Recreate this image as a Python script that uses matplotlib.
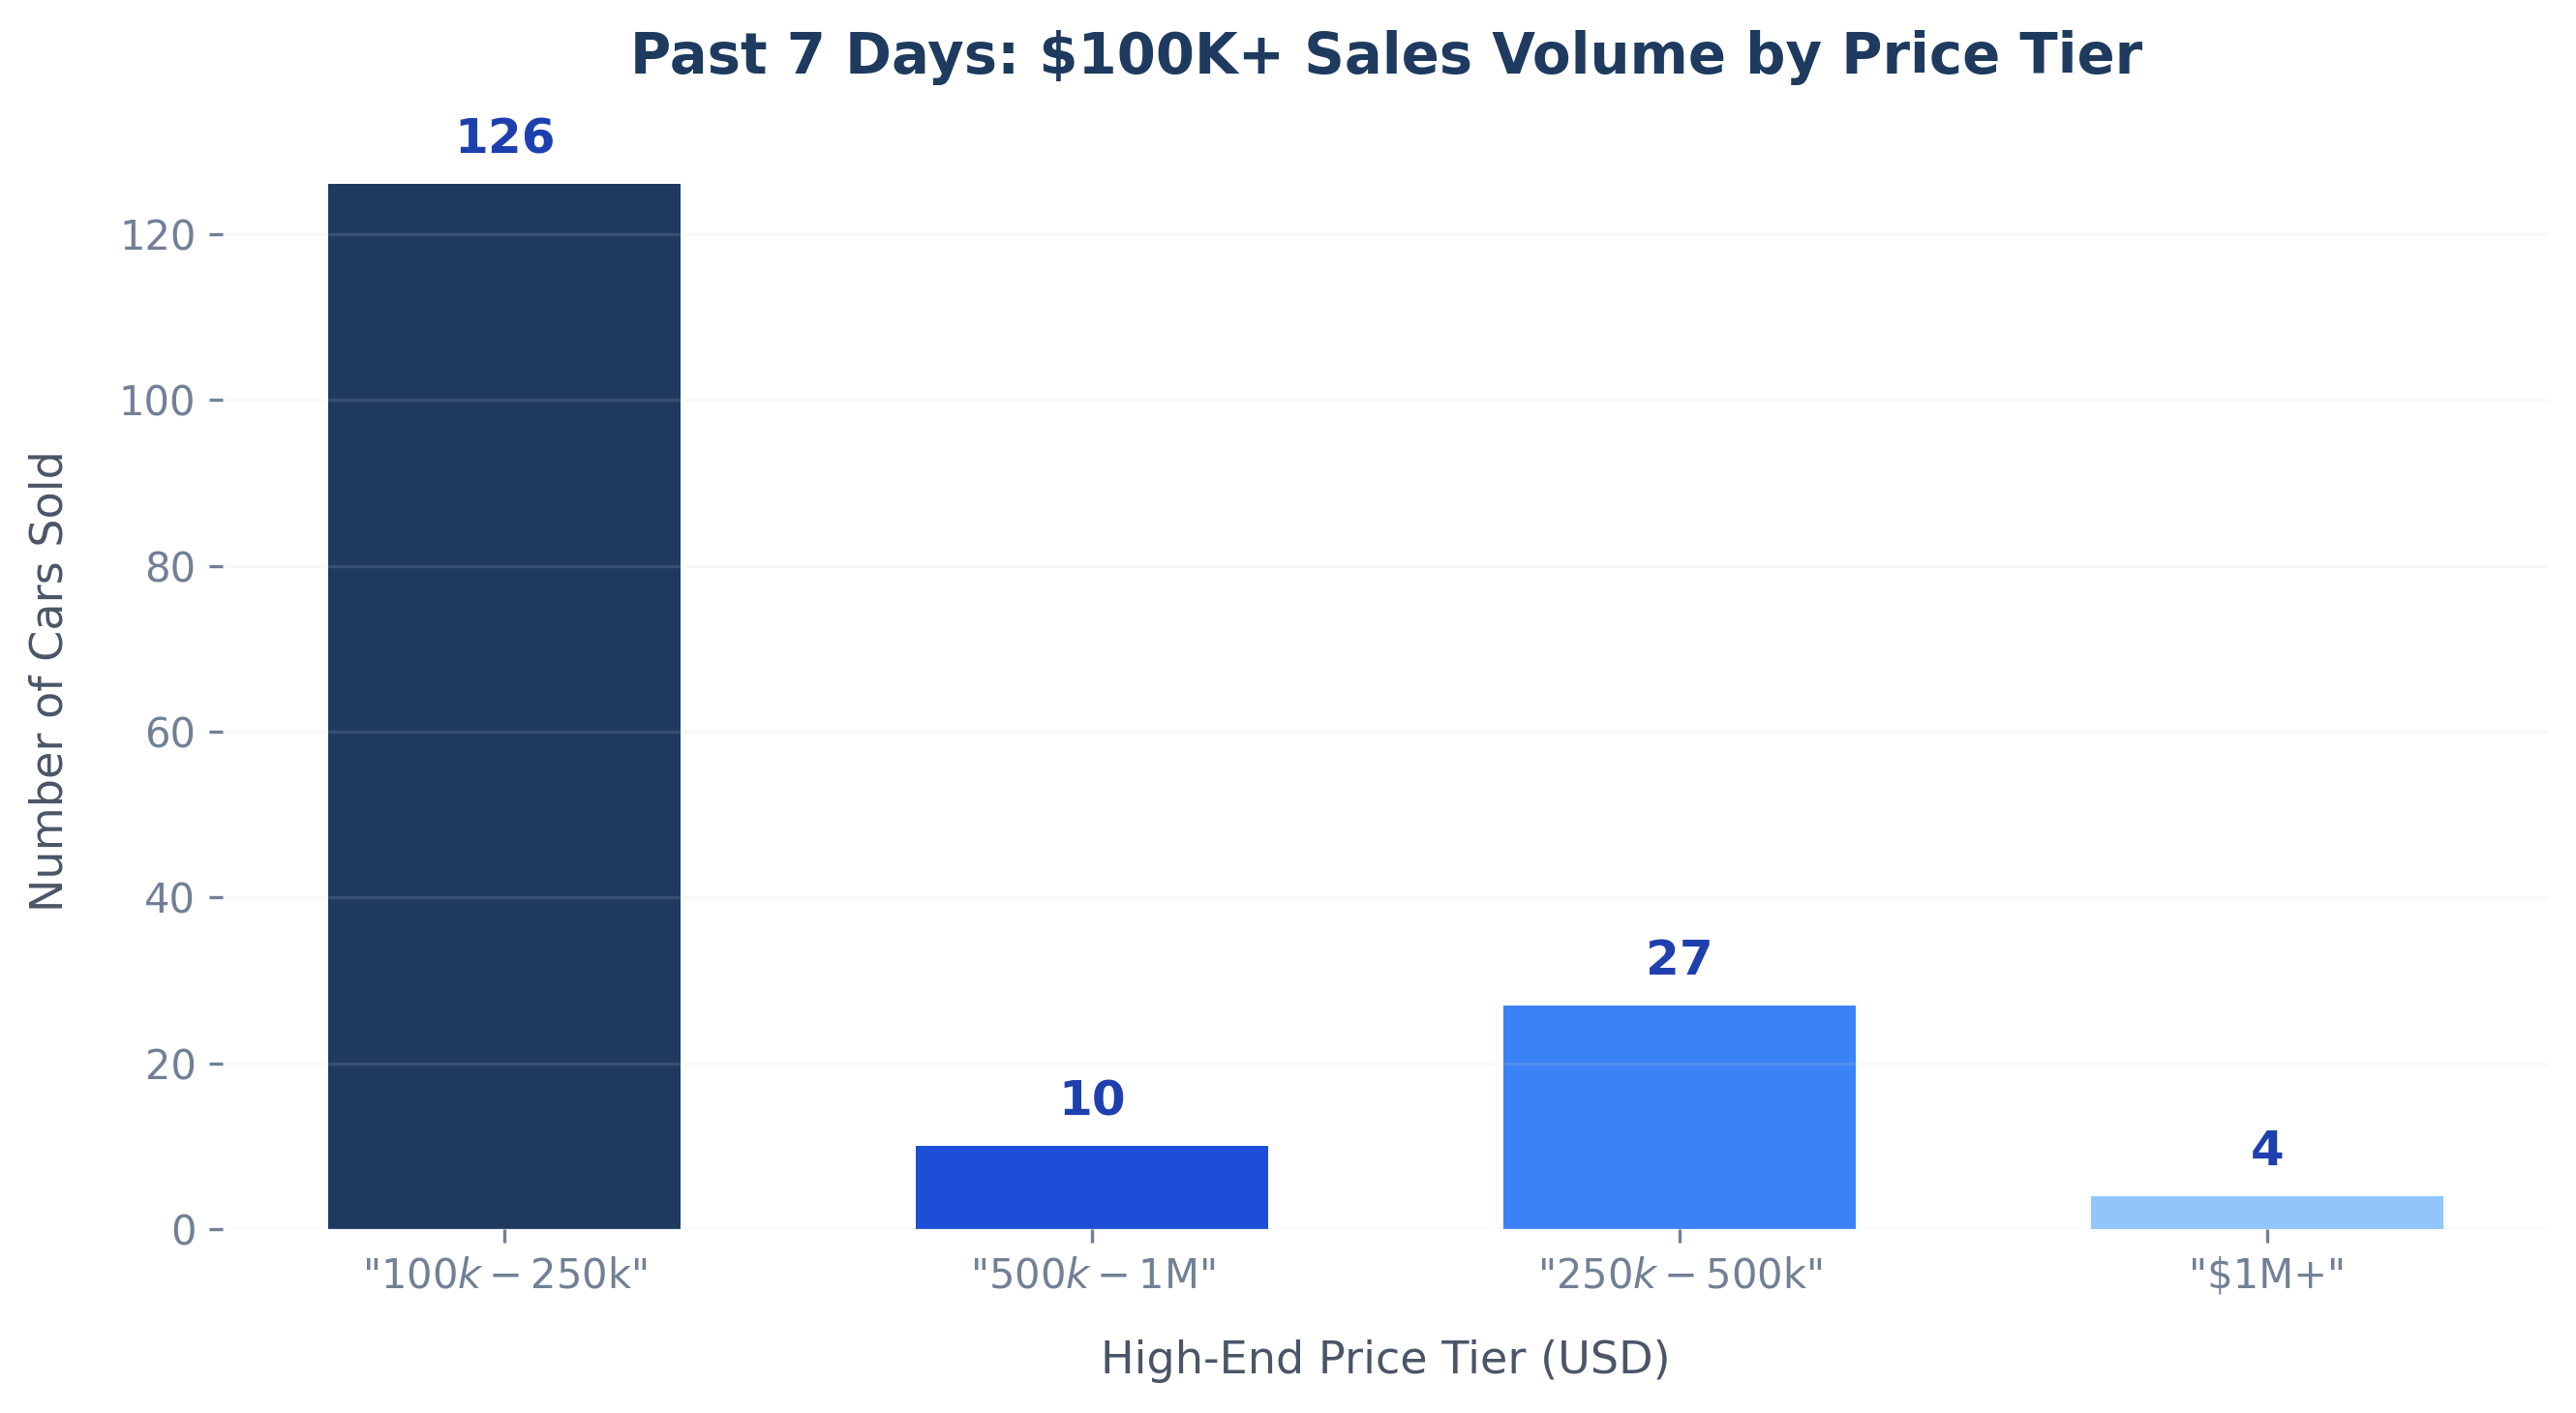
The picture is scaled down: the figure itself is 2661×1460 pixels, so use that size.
import matplotlib
matplotlib.use("Agg")
import matplotlib.pyplot as plt

tiers = ['"$100k-$250k"', '"$500k-$1M"', '"$250k-$500k"', '"$1M+"']
cars_sold = [126, 10, 27, 4]
bar_colors = ['#1e3a5f', '#1d4ed8', '#3b82f6', '#93c5fd']

fig = plt.figure(figsize=(13.305, 7.3), dpi=200)
ax = fig.add_axes([0.0865, 0.1300, 0.903, 0.7766])

x = range(len(tiers))
bars = ax.bar(x, cars_sold, width=0.6, color=bar_colors, zorder=1)

for b, v in zip(bars, cars_sold):
    ax.annotate(str(v), (b.get_x() + b.get_width() / 2, v),
                xytext=(0, 8), textcoords='offset points',
                ha='center', va='bottom', fontsize=18, fontweight='bold',
                color='#1e40af')

ax.set_xticks(list(x))
ax.set_xticklabels(tiers)

ax.yaxis.grid(True, color='#cbd5e1', alpha=0.15, linewidth=1.2, zorder=3)
ax.set_axisbelow(False)
for s in ax.spines.values():
    s.set_visible(False)

ax.tick_params(axis='both', labelsize=15, colors='#718096', length=5, width=1.2, pad=5)
ax.set_xlabel('High-End Price Tier (USD)', fontsize=16.6, color='#4a5568', labelpad=16)
ax.set_ylabel('Number of Cars Sold', fontsize=16.6, color='#4a5568', labelpad=17.3)
ax.set_title('Past 7 Days: $100K+ Sales Volume by Price Tier', fontsize=20.8,
             fontweight='bold', color='#1e3a5f', pad=21.8)

fig.savefig('out.png', dpi=200)
